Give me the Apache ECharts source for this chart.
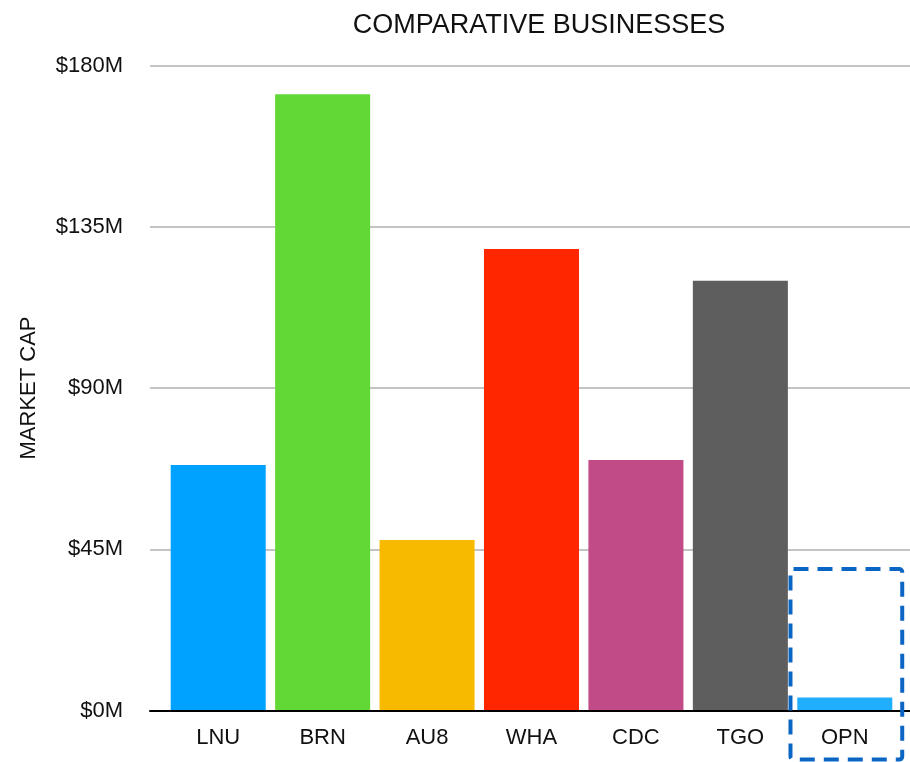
<!DOCTYPE html>
<html>
<head>
<meta charset="utf-8">
<script src="https://cdn.jsdelivr.net/npm/echarts@6/dist/echarts.min.js"></script>
<style>
  html, body { margin: 0; padding: 0; background: #fff; }
  #chart { width: 910px; height: 762px; }
</style>
</head>
<body>
<div id="chart"></div>
<script>
  /** Data */
  var categories = ['LNU', 'BRN', 'AU8', 'WHA', 'CDC', 'TGO', 'OPN'];
  var marketCap = [68.5, 172, 47.6, 128.8, 69.9, 119.9, 3.6];
  var barColors = ['#00a2ff', '#61d836', '#f8ba00', '#ff2600', '#c04b86', '#5e5e5e', '#20aeff'];
  var yTicks = [0, 45, 90, 135, 180];
  // highlighted category and the value range of its box
  var highlight = 'OPN';
  var highlightRange = [-13.7, 39.5];

  var font = '"Liberation Sans", Arial, Helvetica, sans-serif';
  var yMin = yTicks[0], yMax = yTicks[yTicks.length - 1];

  var chart = echarts.init(document.getElementById('chart'));

  var option = {
    animation: false,
    title: {
      text: 'COMPARATIVE BUSINESSES',
      left: 534,
      textAlign: 'center',
      top: 7,
      textStyle: { fontFamily: font, fontSize: 27, fontWeight: 'normal', color: '#111' }
    },
    // grid 0 holds the bars, grid 1 the full-width rules and value labels
    grid: [
      { left: 166, right: 13, top: 65.5, bottom: 51.5 },
      { left: 150, right: 0, top: 65.5, bottom: 51.5 }
    ],
    xAxis: [{
      type: 'category',
      gridIndex: 0,
      data: categories,
      axisTick: { show: false },
      axisLine: { show: false },
      axisLabel: { fontFamily: font, fontSize: 22, color: '#111', margin: 16 }
    }, {
      type: 'category',
      gridIndex: 1,
      data: [''],
      axisTick: { show: false },
      axisLabel: { show: false },
      axisLine: { lineStyle: { color: '#000', width: 2 } },
      z: 10
    }],
    yAxis: [{
      type: 'value',
      gridIndex: 0,
      min: yMin,
      max: yMax,
      interval: 45,
      show: false
    }, {
      type: 'value',
      gridIndex: 1,
      min: yMin,
      max: yMax,
      interval: 45,
      name: 'MARKET CAP',
      nameLocation: 'middle',
      nameGap: 110,
      nameTextStyle: { fontFamily: font, fontSize: 22, color: '#111' },
      axisLine: { show: false },
      axisTick: { show: false },
      axisLabel: {
        fontFamily: font, fontSize: 22, color: '#111', margin: 27,
        formatter: function(v) { return '$' + v + 'M'; }
      },
      splitLine: { lineStyle: { color: '#c4c4c4', width: 2 } }
    }],
    series: [{
      type: 'bar',
      xAxisIndex: 0,
      yAxisIndex: 0,
      z: 5,
      barCategoryGap: '9%',
      data: marketCap.map(function(v, i) {
        return { value: v, itemStyle: { color: barColors[i] } };
      })
    }]
  };
  chart.setOption(option);

  // dashed box round the highlighted category, placed through the axes
  var idx = categories.indexOf(highlight);
  var cx = chart.convertToPixel({ xAxisIndex: 0 }, idx);
  var cx2 = chart.convertToPixel({ xAxisIndex: 0 }, idx - 1);
  var band = cx - cx2;
  var yTop = chart.convertToPixel({ yAxisIndex: 0 }, highlightRange[1]);
  var yBot = chart.convertToPixel({ yAxisIndex: 0 }, highlightRange[0]);
  chart.setOption({
    graphic: [{
      type: 'rect',
      z: 100,
      shape: { x: cx - band * 0.52, y: yTop, width: band * 1.07, height: yBot - yTop, r: 3 },
      style: { fill: null, stroke: '#0b66c3', lineWidth: 4, lineDash: [15, 9] }
    }]
  });
</script>
</body>
</html>
